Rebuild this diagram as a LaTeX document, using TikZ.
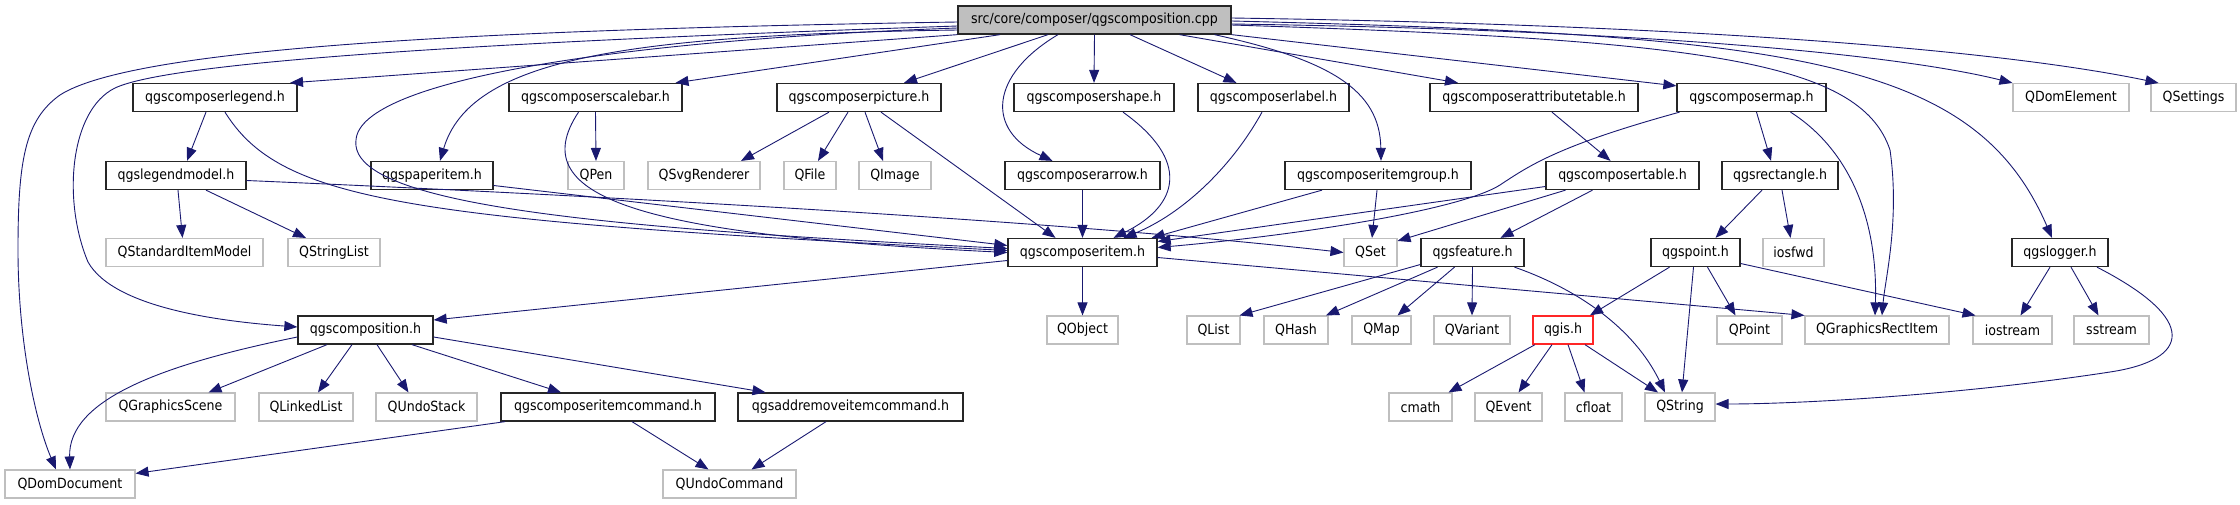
\documentclass[tikz,border=0pt]{standalone}
\usepackage{fontspec}
\setmainfont{DejaVu Sans Condensed}
\usepackage{tikz}
\usetikzlibrary{arrows.meta}
\definecolor{edgeblue}{HTML}{191970}
\definecolor{extgray}{HTML}{BFBFBF}
\tikzset{
  box/.style={draw, inner sep=0pt, minimum height=28pt, fill=white, text=black},
  hdr/.style={box, draw=black!85, line width=1.3pt},
  sys/.style={box, draw=extgray, line width=1.1pt},
  root/.style={hdr, fill=extgray},
  bad/.style={box, draw=red!85, line width=1.3pt},
  dep/.style={draw=edgeblue, line width=0.9pt, -{Triangle[length=13pt, width=10pt]}},
}

\begin{document}
\begin{tikzpicture}[x=1pt, y=-1pt, font=\fontsize{14}{16}\selectfont]
  \useasboundingbox (0,0) rectangle (2240,504);
  \node[root, minimum width=273pt] (cpp) at (1094.5,20) {src/core/composer/qgscomposition.cpp};

  \node[hdr, minimum width=164pt] (legend) at (215,97.5) {qgscomposerlegend.h};
  \node[hdr, minimum width=173pt] (scalebar) at (595.5,97.5) {qgscomposerscalebar.h};
  \node[hdr, minimum width=164pt] (picture) at (859,97.5) {qgscomposerpicture.h};
  \node[hdr, minimum width=160pt] (shape) at (1094,97.5) {qgscomposershape.h};
  \node[hdr, minimum width=151pt] (label) at (1273.5,97.5) {qgscomposerlabel.h};
  \node[hdr, minimum width=208pt] (attrtable) at (1534,97.5) {qgscomposerattributetable.h};
  \node[hdr, minimum width=149pt] (map) at (1751.5,97.5) {qgscomposermap.h};
  \node[sys, minimum width=116pt] (domelem) at (2071,97.5) {QDomElement};
  \node[sys, minimum width=85pt] (settings) at (2193.5,97.5) {QSettings};

  \node[hdr, minimum width=140pt] (legmodel) at (176,175.5) {qgslegendmodel.h};
  \node[hdr, minimum width=122pt] (paper) at (432,175.5) {qgspaperitem.h};
  \node[sys, minimum width=56pt] (pen) at (596,175.5) {QPen};
  \node[sys, minimum width=112pt] (svg) at (704,175.5) {QSvgRenderer};
  \node[sys, minimum width=52pt] (file) at (810,175.5) {QFile};
  \node[sys, minimum width=72pt] (image) at (895,175.5) {QImage};
  \node[hdr, minimum width=155pt] (arrow) at (1082.5,175.5) {qgscomposerarrow.h};
  \node[hdr, minimum width=186pt] (itemgroup) at (1378,175.5) {qgscomposeritemgroup.h};
  \node[hdr, minimum width=153pt] (table) at (1622.5,175.5) {qgscomposertable.h};
  \node[hdr, minimum width=116pt] (rect) at (1780,175.5) {qgsrectangle.h};

  \node[sys, minimum width=157pt] (stditem) at (184.5,252.5) {QStandardItemModel};
  \node[sys, minimum width=92pt] (strlist) at (334,252.5) {QStringList};
  \node[hdr, minimum width=149pt] (item) at (1082.5,252.5) {qgscomposeritem.h};
  \node[sys, minimum width=53pt] (qset) at (1370.5,252.5) {QSet};
  \node[hdr, minimum width=103pt] (feature) at (1472.5,252.5) {qgsfeature.h};
  \node[hdr, minimum width=89pt] (point) at (1695.5,252.5) {qgspoint.h};
  \node[sys, minimum width=61pt] (iosfwd) at (1793.5,252.5) {iosfwd};
  \node[hdr, minimum width=96pt] (logger) at (2060,252.5) {qgslogger.h};

  \node[hdr, minimum width=135pt] (composition) at (365.5,330) {qgscomposition.h};
  \node[sys, minimum width=71pt] (qobject) at (1082.5,330) {QObject};
  \node[sys, minimum width=53pt] (qlist) at (1213.5,330) {QList};
  \node[sys, minimum width=64pt] (qhash) at (1296,330) {QHash};
  \node[sys, minimum width=59pt] (qmap) at (1381.5,330) {QMap};
  \node[sys, minimum width=76pt] (qvariant) at (1472,330) {QVariant};
  \node[bad, minimum width=60pt] (qgis) at (1563,330) {qgis.h};
  \node[sys, minimum width=65pt] (qpoint) at (1749.5,330) {QPoint};
  \node[sys, minimum width=144pt] (grect) at (1877,330) {QGraphicsRectItem};
  \node[sys, minimum width=79pt] (iostream) at (2012.5,330) {iostream};
  \node[sys, minimum width=75pt] (sstream) at (2111.5,330) {sstream};

  \node[sys, minimum width=129pt] (scene) at (170.5,407) {QGraphicsScene};
  \node[sys, minimum width=94pt] (linked) at (306,407) {QLinkedList};
  \node[sys, minimum width=101pt] (undostack) at (426.5,407) {QUndoStack};
  \node[hdr, minimum width=214pt] (itemcmd) at (608,407) {qgscomposeritemcommand.h};
  \node[hdr, minimum width=225pt] (addrem) at (850.5,407) {qgsaddremoveitemcommand.h};
  \node[sys, minimum width=63pt] (cmath) at (1420.5,407) {cmath};
  \node[sys, minimum width=67pt] (qevent) at (1508.5,407) {QEvent};
  \node[sys, minimum width=57pt] (cfloat) at (1593.5,407) {cfloat};
  \node[sys, minimum width=70pt] (qstring) at (1680,407) {QString};

  \node[sys, minimum width=130pt] (domdoc) at (70,484) {QDomDocument};
  \node[sys, minimum width=133pt] (undocmd) at (729.5,484) {QUndoCommand};

  \draw[dep] ([yshift=-2pt]cpp.west) .. controls (450,30) and (130,50) .. (60,95)
    .. controls (25,120) and (18,160) .. (18,250) .. controls (18,340) and (35,420) .. ([xshift=-14pt]domdoc.north);
  \draw[dep] ([yshift=-6pt]cpp.west) .. controls (480,42) and (170,62) .. (115,88)
    .. controls (70,110) and (62,200) .. (88,262) .. controls (115,310) and (230,322) .. ([yshift=3pt]composition.west);
  \draw[dep] (cpp.south west) -- ([xshift=75pt]legend.north);
  \draw[dep] ([yshift=-8pt]cpp.west) .. controls (620,40) and (360,80) .. (356,140)
    .. controls (348,205) and (600,228) .. ([yshift=4pt]item.west);
  \draw[dep] ([yshift=-10pt]cpp.west) .. controls (620,35) and (470,60) .. ([xshift=8pt]paper.north);
  \draw[dep] ([xshift=-94.5pt]cpp.south) -- ([xshift=80pt]scalebar.north);
  \draw[dep] ([xshift=-46.5pt]cpp.south) -- ([xshift=45pt]picture.north);
  \draw[dep] ([xshift=-36.5pt]cpp.south) .. controls (990,75) and (985,130) .. ([xshift=-30pt]arrow.north);
  \draw[dep] (cpp.south) -- (shape.north);
  \draw[dep] ([xshift=35.5pt]cpp.south) -- ([xshift=-37pt]label.north);
  \draw[dep] ([xshift=120pt]cpp.south) .. controls (1330,60) and (1380,90) .. ([xshift=3pt]itemgroup.north);
  \draw[dep] ([xshift=85pt]cpp.south) -- ([xshift=-76pt]attrtable.north);
  \draw[dep] (cpp.south east) -- ([yshift=-3pt]map.north west);
  \draw[dep] ([yshift=-4pt]cpp.east) .. controls (1650,30) and (1900,55) .. (domelem.north west);
  \draw[dep] ([yshift=2pt]cpp.east) .. controls (1700,25) and (2000,50) .. ([xshift=-35pt]settings.north);
  \draw[dep] ([yshift=-1pt]cpp.east) .. controls (1800,35) and (1975,60) .. ([xshift=-8pt]logger.north);
  \draw[dep] ([yshift=-5pt]cpp.east) .. controls (1700,40) and (1860,60) .. (1890,150)
    .. controls (1900,220) and (1885,280) .. ([xshift=5pt]grect.north);

  \draw[dep] ([xshift=-9pt]legend.south) -- ([xshift=11pt]legmodel.north);
  \draw[dep] ([xshift=10pt]legend.south) .. controls (280,200) and (400,220) .. ([yshift=2pt]item.west);
  \draw[dep] ([xshift=2pt]legmodel.south) -- ([xshift=-2pt]stditem.north);
  \draw[dep] ([xshift=30pt]legmodel.south) -- ([xshift=-28pt]strlist.north);
  \draw[dep] ([yshift=-5pt]legmodel.east) .. controls (700,200) and (1100,225) .. (qset.west);
  \draw[dep] ([yshift=-10pt]paper.east) -- ([yshift=7pt]item.west);
  \draw[dep] (scalebar.south) -- (pen.north);
  \draw[dep] ([xshift=-17pt]scalebar.south) .. controls (520,200) and (650,235) .. (item.west);
  \draw[dep] ([xshift=-30pt]picture.south) -- ([xshift=37pt]svg.north);
  \draw[dep] ([xshift=-11pt]picture.south) -- ([xshift=8pt]file.north);
  \draw[dep] ([xshift=6pt]picture.south) -- ([xshift=-12pt]image.north);
  \draw[dep] ([xshift=22pt]picture.south) -- ([xshift=-27pt]item.north);
  \draw[dep] (arrow.south) -- (item.north);
  \draw[dep] ([xshift=29pt]shape.south) .. controls (1190,160) and (1180,205) .. ([xshift=31pt]item.north);
  \draw[dep] ([xshift=-11.5pt]label.south) .. controls (1230,170) and (1180,215) .. ([xshift=41pt]item.north);
  \draw[dep] ([xshift=-56pt]itemgroup.south) -- ([xshift=-6pt]item.north east);
  \draw[dep] ([xshift=-1pt]itemgroup.south) -- ([xshift=1.5pt]qset.north);
  \draw[dep] ([yshift=-11pt]table.west) -- ([yshift=11pt]item.east);
  \draw[dep] ([xshift=-72pt]map.south) .. controls (1560,145) and (1530,165) .. (1500,185)
    .. controls (1460,210) and (1300,235) .. ([yshift=5pt]item.east);
  \draw[dep] ([xshift=-57pt]table.south) -- ([yshift=-3pt]qset.north east);
  \draw[dep] ([xshift=-30pt]table.south) -- ([xshift=28pt]feature.north);
  \draw[dep] ([xshift=18pt]attrtable.south) -- ([xshift=-12pt]table.north);
  \draw[dep] ([xshift=5pt]map.south) -- ([xshift=-9pt]rect.north);
  \draw[dep] ([xshift=39pt]map.south) .. controls (1850,150) and (1878,220) .. ([xshift=-2pt]grect.north);
  \draw[dep] ([xshift=-18pt]rect.south) -- ([xshift=20pt]point.north);
  \draw[dep] ([xshift=2pt]rect.south) -- ([xshift=-3pt]iosfwd.north);

  \draw[dep] ([xshift=-26pt]point.south) -- ([xshift=27pt]qgis.north);
  \draw[dep] ([xshift=-2pt]point.south) -- ([xshift=2pt]qstring.north);
  \draw[dep] ([xshift=12pt]point.south) -- ([xshift=-14pt]qpoint.north);
  \draw[dep] ([yshift=-11pt]point.east) -- ([xshift=-37pt]iostream.north);
  \draw[dep] ([xshift=-10pt]logger.south) -- ([xshift=8pt]iostream.north);
  \draw[dep] ([xshift=11pt]logger.south) -- ([xshift=-13pt]sstream.north);
  \draw[dep] ([xshift=37pt]logger.south) .. controls (2200,320) and (2190,360) .. (2110,372)
    .. controls (1960,395) and (1800,404) .. ([yshift=3pt]qstring.east);
  \draw[dep] ([yshift=-12pt]feature.west) -- ([xshift=26pt]qlist.north);
  \draw[dep] ([xshift=-35pt]feature.south) -- ([xshift=30pt]qhash.north);
  \draw[dep] ([xshift=-18pt]feature.south) -- ([xshift=16pt]qmap.north);
  \draw[dep] (feature.south) -- (qvariant.north);
  \draw[dep] ([xshift=42pt]feature.south) .. controls (1580,290) and (1635,330) .. ([xshift=-15pt]qstring.north);
  \draw[dep] (item.south) -- (qobject.north);
  \draw[dep] ([yshift=-8pt]item.west) -- ([yshift=10pt]composition.east);
  \draw[dep] ([yshift=-5pt]item.east) -- (grect.north west);

  \draw[dep] ([xshift=-28pt]qgis.south) -- ([xshift=28pt]cmath.north);
  \draw[dep] ([xshift=-11pt]qgis.south) -- ([xshift=10pt]qevent.north);
  \draw[dep] ([xshift=5pt]qgis.south) -- ([xshift=-9pt]cfloat.north);
  \draw[dep] ([xshift=22pt]qgis.south) -- ([xshift=-22pt]qstring.north);
  \draw[dep] ([yshift=-7pt]composition.west) .. controls (160,365) and (68,400) .. (domdoc.north);
  \draw[dep] ([xshift=-38.5pt]composition.south) -- ([xshift=38pt]scene.north);
  \draw[dep] ([xshift=-13.5pt]composition.south) -- ([xshift=12pt]linked.north);
  \draw[dep] ([xshift=11.5pt]composition.south) -- ([xshift=-18pt]undostack.north);
  \draw[dep] ([xshift=46.5pt]composition.south) -- ([xshift=-47pt]itemcmd.north);
  \draw[dep] ([yshift=-7pt]composition.east) -- ([xshift=-85pt]addrem.north);
  \draw[dep] ([xshift=-103pt]itemcmd.south) -- ([yshift=-4pt]domdoc.north east);
  \draw[dep] ([xshift=24pt]itemcmd.south) -- ([xshift=-21pt]undocmd.north);
  \draw[dep] ([xshift=-24.5pt]addrem.south) -- ([xshift=22pt]undocmd.north);
\end{tikzpicture}
\end{document}
